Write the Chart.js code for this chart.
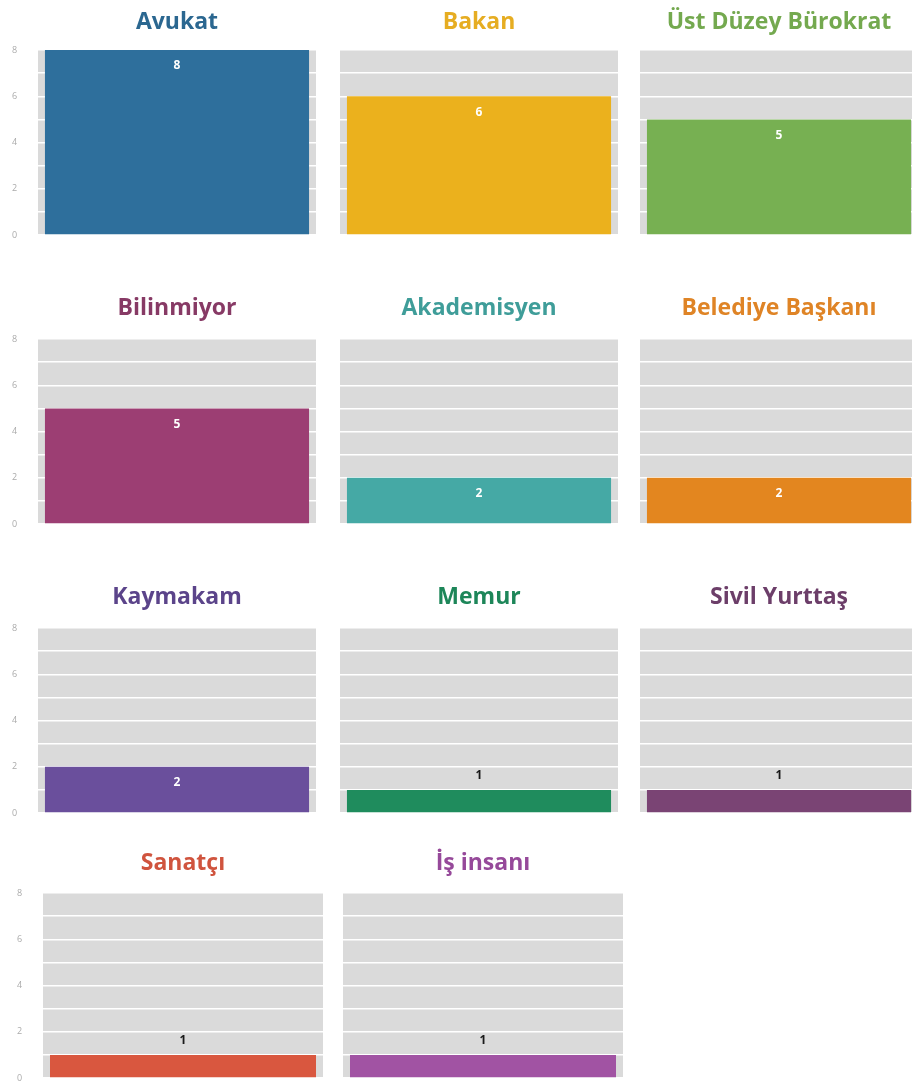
<!DOCTYPE html>
<html lang="tr">
<head>
<meta charset="utf-8">
<title>Meslek dağılımı</title>
<script src="https://cdn.jsdelivr.net/npm/chart.js@4.4.1/dist/chart.umd.min.js"></script>
<style>
  html, body { margin: 0; padding: 0; background: #fff; overflow: hidden; }
  #wrap { position: relative; width: 912px; height: 1084px; }
  .panel { position: absolute; display: block; }
</style>
</head>
<body>
<div id="wrap"></div>
<script>
// meslek kategorileri ve kişi sayıları
const categories = ['Avukat', 'Bakan', 'Üst Düzey Bürokrat', 'Bilinmiyor', 'Akademisyen',
  'Belediye Başkanı', 'Kaymakam', 'Memur', 'Sivil Yurttaş', 'Sanatçı', 'İş insanı'];
const counts = [8, 6, 5, 5, 2, 2, 2, 1, 1, 1, 1];
const yTicks = [0, 2, 4, 6, 8];

const barColors = ['#2e6f9c', '#ebb11d', '#77b052', '#9c3e73', '#45a9a5',
  '#e3861f', '#6a4f9c', '#1f8c5d', '#7a4474', '#d9573f', '#a153a3'];
const titleColors = ['#2b6790', '#e6ad22', '#74a94f', '#873a65', '#3f9d99',
  '#df8426', '#5b448a', '#1d8659', '#6c3e69', '#d0543e', '#96499a'];

// panel yerleşimi: gri alanın sol kenarı, üst kenarı, başlığın taban çizgisi
const colLeft = [[38, 340, 640], [38, 340, 640], [38, 340, 640], [43, 343]];
const rowTop = [50, 339, 628, 893];
const rowBaseline = [29, 315, 604, 870];
const plotH = 185;
const axisW = 38;
const axisPadLeft = 12;
const padBottom = 6;

// gri çizim alanı
const gridBackground = {
  id: 'gridBackground',
  beforeDraw(chart) {
    const a = chart.chartArea;
    const ctx = chart.ctx;
    ctx.save();
    ctx.fillStyle = '#dadada';
    ctx.fillRect(a.left, a.top, a.right - a.left, a.bottom - a.top);
    ctx.restore();
  }
};

// panel başlığı, çizim alanının ortasına
const panelTitle = {
  id: 'panelTitle',
  afterDraw(chart, args, opts) {
    const a = chart.chartArea;
    const ctx = chart.ctx;
    ctx.save();
    ctx.font = 'bold 23px "Open Sans"';
    ctx.fillStyle = opts.color;
    ctx.textAlign = 'center';
    ctx.textBaseline = 'alphabetic';
    ctx.fillText(opts.text, (a.left + a.right) / 2, opts.baseline);
    ctx.restore();
  }
};

// çubuk değerleri
const valueLabels = {
  id: 'valueLabels',
  afterDatasetsDraw(chart) {
    const ctx = chart.ctx;
    const bar = chart.getDatasetMeta(0).data[0];
    const v = chart.data.datasets[0].data[0];
    ctx.save();
    ctx.font = 'bold 12px "Open Sans"';
    ctx.textAlign = 'center';
    ctx.textBaseline = 'middle';
    if (v >= 2) {
      ctx.fillStyle = '#ffffff';
      ctx.fillText(String(v), bar.x, bar.y + 16);
    } else {
      ctx.fillStyle = '#1a1a1a';
      ctx.fillText(String(v), bar.x, bar.y - 14);
    }
    ctx.restore();
  }
};

const wrap = document.getElementById('wrap');
let idx = 0;
colLeft.forEach((cols, r) => {
  cols.forEach((left, c) => {
    const i = idx++;
    const top = rowBaseline[r] - 28;
    const padTop = rowTop[r] - top;
    const w = axisW + (r === 3 ? 280 : 278);
    const h = padTop + plotH + padBottom;

    const canvas = document.createElement('canvas');
    canvas.className = 'panel';
    canvas.width = w;
    canvas.height = h;
    canvas.style.left = (left - axisW) + 'px';
    canvas.style.top = top + 'px';
    wrap.appendChild(canvas);

    new Chart(canvas, {
      type: 'bar',
      data: {
        labels: [categories[i]],
        datasets: [{
          data: [counts[i]],
          backgroundColor: barColors[i],
          borderWidth: 0,
          barPercentage: 0.95,
          categoryPercentage: 1
        }]
      },
      options: {
        responsive: false,
        animation: false,
        layout: { padding: { top: padTop, bottom: padBottom, left: axisPadLeft, right: 0 } },
        plugins: {
          legend: { display: false },
          tooltip: { enabled: false },
          panelTitle: { text: categories[i], color: titleColors[i], baseline: rowBaseline[r] - top }
        },
        scales: {
          x: { display: false },
          y: {
            min: 0,
            max: 8,
            afterFit(scale) { scale.width = axisW - axisPadLeft; },
            border: { display: false },
            grid: { color: '#ffffff', lineWidth: 1.5, drawTicks: false },
            ticks: {
              stepSize: 1,
              padding: 0,
              crossAlign: 'far',
              color: c === 0 ? '#ababab' : 'rgba(0,0,0,0)',
              font: { family: 'Open Sans', size: 9 },
              callback: (v) => yTicks.includes(v) ? v : ''
            }
          }
        }
      },
      plugins: [gridBackground, panelTitle, valueLabels]
    });
  });
});
</script>
</body>
</html>
